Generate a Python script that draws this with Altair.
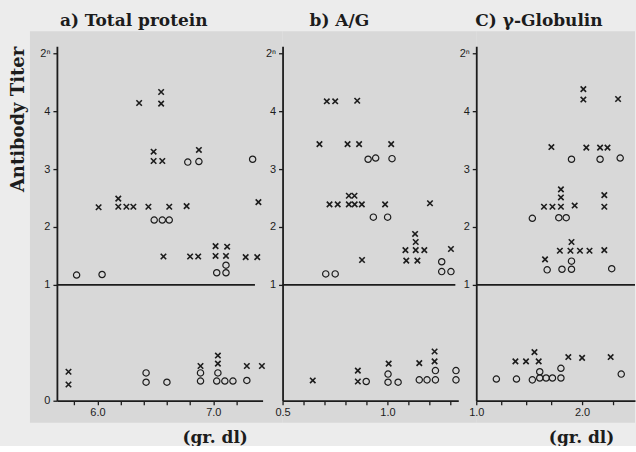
import altair as alt
import pandas as pd

# ---------- a) Total protein ----------
a_cross_x = [6.55, 6.36, 6.55, 6.485, 6.485, 6.56, 6.876,
             6.18, 6.01, 6.18, 6.25, 6.31, 6.44, 6.62, 6.77, 7.39,
             6.57, 6.80, 6.87, 7.02, 7.12, 7.02, 7.11, 7.28, 7.38,
             5.75, 5.75, 6.89, 7.04, 7.04, 7.29, 7.42]
a_cross_y = [4.33, 4.14, 4.13, 3.30, 3.14, 3.14, 3.33,
             2.49, 2.34, 2.35, 2.35, 2.35, 2.35, 2.35, 2.36, 2.43,
             1.49, 1.49, 1.49, 1.67, 1.66, 1.50, 1.50, 1.48, 1.48,
             0.25, 0.14, 0.30, 0.39, 0.32, 0.30, 0.30]
a_circle_x = [6.78, 6.876, 7.34, 6.49, 6.56, 6.62, 7.11, 7.03, 7.11, 5.82, 6.04,
              6.42, 6.42, 6.60, 6.89, 6.89, 7.04, 7.03, 7.10, 7.17, 7.29]
a_circle_y = [3.12, 3.13, 3.17, 2.12, 2.12, 2.12, 1.34, 1.21, 1.21, 1.17, 1.18,
              0.24, 0.16, 0.16, 0.24, 0.17, 0.24, 0.17, 0.17, 0.17, 0.175]
a_line_x = [5.65, 7.36]
a_domain = [5.65, 7.426]
a_ticks = [5.8, 6.0, 6.2, 6.4, 6.6, 6.8, 7.0, 7.2]
a_labels = [6.0, 7.0]

# ---------- b) A/G ----------
b_cross_x = [0.711, 0.751, 0.856, 0.676, 0.81, 0.865, 1.018, 0.816, 0.843,
             0.724, 0.763, 0.816, 0.844, 0.878, 0.989, 1.203,
             1.132, 1.135, 1.086, 1.135, 1.176, 1.303, 0.879, 1.09, 1.143,
             0.644, 0.859, 0.859, 1.006, 1.152, 1.225, 1.225]
b_cross_y = [4.17, 4.17, 4.18, 3.43, 3.43, 3.43, 3.43, 2.54, 2.54,
             2.39, 2.39, 2.39, 2.39, 2.39, 2.39, 2.41,
             1.88, 1.74, 1.60, 1.60, 1.60, 1.62, 1.43, 1.42, 1.42,
             0.175, 0.26, 0.166, 0.32, 0.325, 0.425, 0.34]
b_circle_x = [0.908, 0.944, 1.022, 0.933, 1.001, 1.259, 1.259, 1.303, 0.706, 0.751,
              0.899, 1.003, 1.003, 1.051, 1.152, 1.189, 1.229, 1.229, 1.327, 1.327]
b_circle_y = [3.17, 3.19, 3.18, 2.17, 2.17, 1.40, 1.23, 1.23, 1.19, 1.19,
              0.166, 0.23, 0.16, 0.16, 0.18, 0.18, 0.18, 0.26, 0.26, 0.18]
b_line_x = [0.5, 1.324]
b_domain = [0.5, 1.338]
b_ticks = [0.5, 0.6, 0.7, 0.8, 0.9, 1.0, 1.1, 1.2, 1.3]
b_labels = [0.5, 1.0]

# ---------- C) gamma-Globulin ----------
c_cross_x = [2.012, 2.012, 2.34, 1.71, 2.04, 2.17, 2.24, 1.80, 1.80, 2.21,
             1.64, 1.72, 1.80, 1.93, 2.21, 1.90, 1.79, 1.89, 1.98, 2.07, 2.21, 1.65,
             1.37, 1.47, 1.55, 1.59, 1.87, 2.00, 2.27]
c_cross_y = [4.38, 4.20, 4.21, 3.38, 3.37, 3.37, 3.37, 2.65, 2.51, 2.55,
             2.35, 2.35, 2.35, 2.37, 2.35, 1.74, 1.59, 1.59, 1.59, 1.59, 1.60, 1.44,
             0.34, 0.34, 0.42, 0.34, 0.377, 0.37, 0.377]
c_circle_x = [1.90, 2.17, 2.36, 1.53, 1.78, 1.85, 1.90, 1.67, 1.81, 1.90, 2.28,
              1.19, 1.38, 1.53, 1.60, 1.60, 1.66, 1.72, 1.80, 1.80, 2.37]
c_circle_y = [3.17, 3.17, 3.19, 2.15, 2.16, 2.16, 1.41, 1.26, 1.27, 1.27, 1.28,
              0.187, 0.187, 0.18, 0.25, 0.196, 0.196, 0.196, 0.196, 0.28, 0.23]
c_line_x = [1.0, 2.5]
c_domain = [1.0, 2.5]
c_ticks = [1.0, 1.24, 1.47, 1.71, 2.0, 2.29]
c_labels = [1.0, 2.0]

y_tick_values = [0, 1, 2, 3, 4, 5]
y_break = 1

INK = "#1c1c1c"
PAPER = "#ececec"
SCAN = "#d8d8d8"
SERIF = "DejaVu Serif"
SANS = "Liberation Sans"
H = 355
Y_SCALE = alt.Scale(domain=[0, 1, 5.12], range=[H, 239, 0])
CROSS = "M-1,-1L1,1M-1,1L1,-1"


def panel(cx, cy, ox, oy, line_x, dom, rng, width, ticks, labels, title, title_dx,
          ytitle, show_zero, xtitle, xtitle_x, rect_left):
    pts = pd.DataFrame({"x": cx + ox, "y": cy + oy,
                        "kind": ["x"] * len(cx) + ["o"] * len(ox)})
    line = pd.DataFrame({"x": [line_x[0]], "x2": [line_x[1]], "y": [y_break]})
    lab_cond = " || ".join(f"datum.value == {v}" for v in labels)
    xaxis_kw = dict(values=ticks, labelExpr=f"({lab_cond}) ? format(datum.value, '.1f') : ''",
                    tickSize=4, tickWidth=1.3, tickColor=INK, domainColor=INK, domainWidth=1.8,
                    labelFont=SANS, labelFontSize=11, labelColor=INK, labelPadding=2,
                    grid=False, zindex=2, labelFlush=False, labelOverlap=False)
    if xtitle:
        xaxis_kw.update(title=xtitle, titleFont=SERIF, titleFontSize=17, titleFontWeight="bold",
                        titleColor=INK, titleX=xtitle_x, titleY=37, titleAlign="center",
                        titleBaseline="middle")
    else:
        xaxis_kw.update(title=None)
    yvals = y_tick_values if show_zero else y_tick_values[1:]
    yaxis_kw = dict(values=yvals,
                    labelExpr="datum.value >= 5 ? '2\u207f' : format(datum.value, 'd')",
                    tickSize=4, tickWidth=1.3, tickColor=INK, domainColor=INK, domainWidth=1.8,
                    labelFont=SANS, labelFontSize=11, labelColor=INK, labelPadding=3,
                    grid=False, zindex=2, labelFlush=False, labelOverlap=False)
    if ytitle:
        yaxis_kw.update(title=ytitle, titleFont=SERIF, titleFontSize=18, titleFontWeight="bold",
                        titleColor=INK, titleAnchor="end", titlePadding=12)
    else:
        yaxis_kw.update(title=None)
    xs = alt.Scale(domain=dom, range=rng, nice=False, zero=False)
    xenc = alt.X("x:Q", scale=xs, axis=alt.Axis(**xaxis_kw))
    yenc = alt.Y("y:Q", scale=Y_SCALE, axis=alt.Axis(**yaxis_kw))

    bg = alt.Chart(pd.DataFrame({"k": [0]})).mark_rect(color=SCAN).encode(
        x=alt.value(rect_left), x2=alt.value(width), y=alt.value(-15), y2=alt.value(H + 22))
    rule = alt.Chart(line).mark_rule(color=INK, strokeWidth=1.6).encode(
        x=xenc, x2="x2:Q", y=yenc)
    crosses = alt.Chart(pts).transform_filter("datum.kind == 'x'").mark_point(
        shape=CROSS, size=30, filled=False, color=INK, strokeWidth=1.6, opacity=1).encode(
        x=xenc, y=yenc)
    circles = alt.Chart(pts).transform_filter("datum.kind == 'o'").mark_point(
        shape="circle", size=40, filled=False, color=INK, strokeWidth=1.2, opacity=1).encode(
        x=xenc, y=yenc)
    return alt.layer(bg, rule, crosses, circles).properties(
        width=width, height=H,
        title=alt.TitleParams(title, anchor="start", frame="group", dx=title_dx,
                              font=SERIF, fontSize=17, fontWeight="bold", color=INK,
                              baseline="alphabetic", offset=-12))


pa = panel(a_cross_x, a_cross_y, a_circle_x, a_circle_y, a_line_x, a_domain, [0, 206], 226,
           a_ticks, a_labels, "a) Total protein", 3, "Antibody Titer", True,
           "(gr. dl)", 158, -27)
pb = panel(b_cross_x, b_cross_y, b_circle_x, b_circle_y, b_line_x, b_domain, [0, 176], 194,
           b_ticks, b_labels, "b) A/G", 27, None, False, None, 0, 0)
pc = panel(c_cross_x, c_cross_y, c_circle_x, c_circle_y, c_line_x, c_domain, [0, 159], 159,
           c_ticks, c_labels, "C) \u03b3-Globulin", -1, None, False, "(gr. dl)", 105, 0)

chart = alt.hconcat(pa, pb, pc, spacing=0, bounds="flush").properties(
    background=PAPER, padding={"left": 9, "top": 12, "right": 0, "bottom": 0}
).configure_view(stroke=None)

chart.save("out.html", embed_options={"renderer": "svg", "actions": False})
